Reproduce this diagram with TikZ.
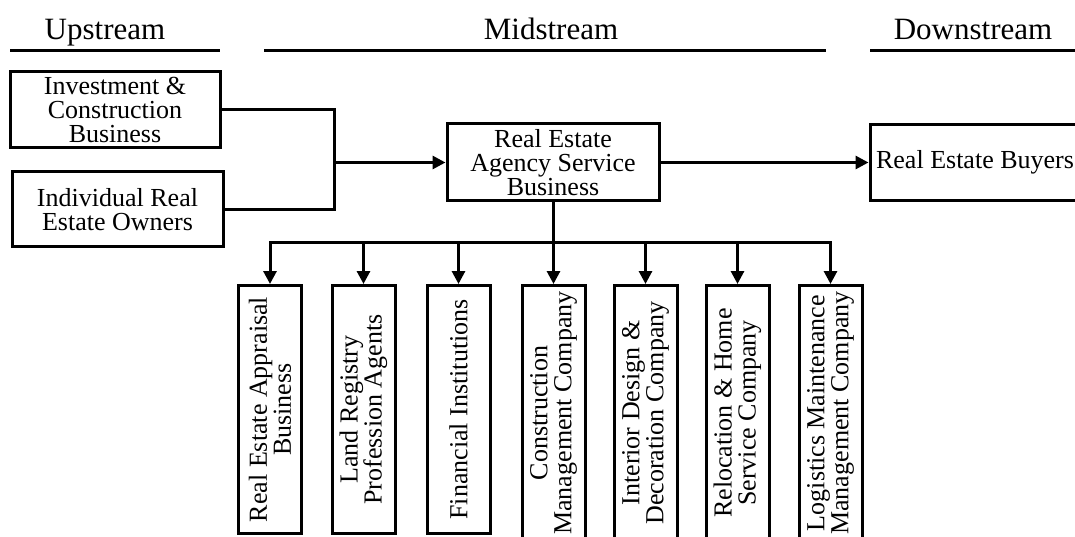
\documentclass[tikz,border=0pt]{standalone}
\usepackage{fontspec}
\setmainfont{Liberation Serif}
\usetikzlibrary{arrows.meta, positioning}
\tikzset{chainbox/.style={draw=black, line width=3pt, align=center, inner sep=1pt, font=\fontsize{26}{24}\selectfont},sidebox/.style={chainbox, rotate=90, anchor=east, minimum width=248pt, minimum height=63pt}}

\begin{document}
\begin{tikzpicture}[
        x=1pt, y=1pt,
        link/.style={line width=3pt},
        flow/.style={line width=3pt, -{Triangle[length=13pt, width=13pt]}},
        stage/.style={font=\fontsize{31}{31}\selectfont, anchor=base},
        longbox/.style={sidebox, minimum width=255pt},
    ]
        \useasboundingbox (0,0) rectangle (1075,536);
        % Stages
        \draw[link] (10,485) -- (220,485);
        \draw[link] (264,485) -- (826,485);
        \draw[link] (870,485) -- (1075,485);
        \node[stage] (up) at (105,496) {Upstream};
        \node[stage] (mid) at (551,496) {Midstream};
        \node[stage] (down) at (973,496) {Downstream};
        % Main chain
        \node[chainbox, minimum width=210pt, minimum height=76pt] (invest) at (115,426) {Investment \&\\Construction\\Business};
        \node[chainbox, minimum width=211pt, minimum height=75pt] (owners) at (117.5,326.5) {Individual Real\\Estate Owners};
        \node[chainbox, minimum width=212pt, minimum height=77pt] (agency) at (553,373.5) {Real Estate\\Agency Service\\Business};
        \node[chainbox, minimum width=210pt, minimum height=76pt] (buyers) at (975,373.5) {Real Estate Buyers};
        \coordinate (merge) at (334,373.5);
        \coordinate (split) at (553,293);
        % Service providers
        \node[sidebox] (appraisal) at (270,252) {Real Estate Appraisal\\Business};
        \node[sidebox] (registry) at (363.5,252) {Land Registry\\Profession Agents};
        \node[sidebox] (finance) at (458.5,252) {Financial Institutions};
        \node[longbox] (construct) at (553.5,252) {Construction\\Management Company};
        \node[longbox] (interior) at (645.5,252) {Interior Design \&\\Decoration Company};
        \node[longbox] (relocate) at (737.5,252) {Relocation \& Home\\Service Company};
        \node[longbox] (logistics) at (830.5,252) {Logistics Maintenance\\Management Company};
        % Connectors
        \draw[link] (invest.east) -| (merge) |- (owners.east);
        \draw[flow] (merge) -- (agency.west);
        \draw[flow] (agency.east) -- (buyers.west);
        \draw[link] (agency.south) -- (split);
        \draw[flow] (split) -| (appraisal.east);
        \draw[flow] (split) -| (logistics.east);
        \foreach \n in {registry, finance, construct, interior, relocate} {
            \draw[flow] (\n.east |- split) -- (\n.east);
        }
    \end{tikzpicture}
\end{document}
